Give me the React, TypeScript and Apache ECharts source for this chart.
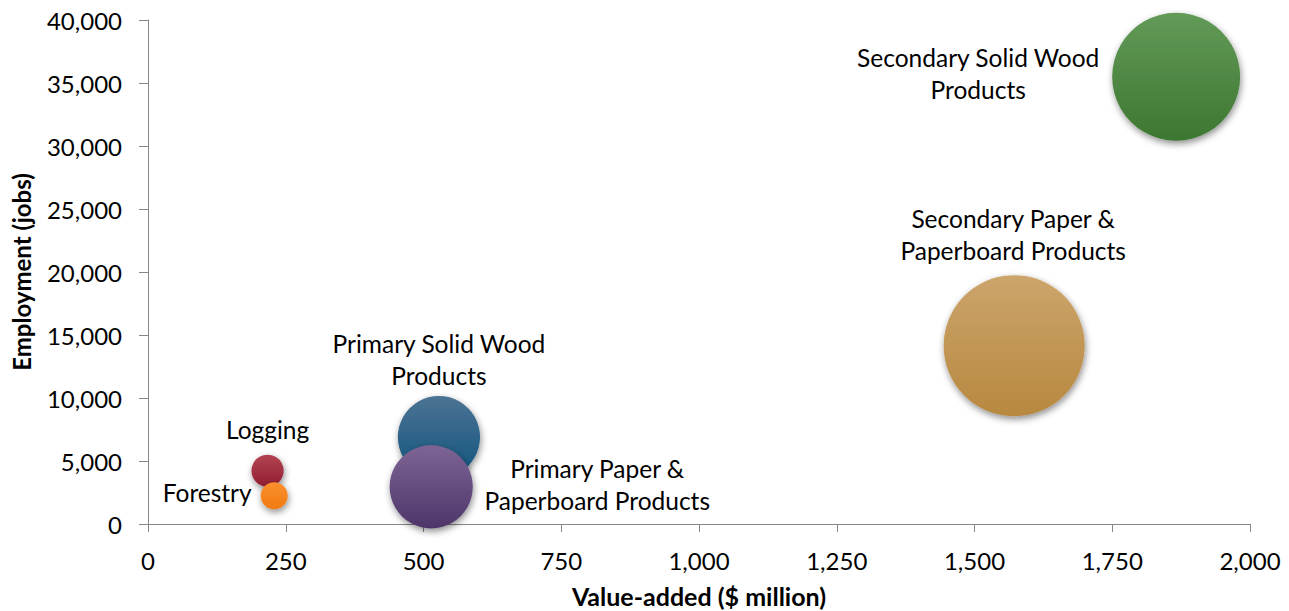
import React, { useEffect, useRef } from "react";
import * as echarts from "echarts";

const sectors = [
  "Secondary Solid Wood\nProducts",
  "Secondary Paper &\nPaperboard Products",
  "Primary Solid Wood\nProducts",
  "Primary Paper &\nPaperboard Products",
  "Logging",
  "Forestry",
];
const valueAdded = [1866, 1572, 528, 514, 217, 229];
const employment = [35500, 14150, 6900, 2950, 4230, 2240];
const bubbleSize = [4120, 5000, 1700, 1740, 260, 185];

const xTicks = { min: 0, max: 2000, interval: 250 };
const yTicks = { min: 0, max: 40000, interval: 5000 };

const colorsTop = ["#639a58", "#cca56c", "#4b7394", "#7d6595", "#b24352", "#fb9030"];
const colorsBottom = ["#3c7731", "#b7883f", "#12557d", "#4e3569", "#921e31", "#f07a10"];
const labelOffsets: number[][] = [
  [-198, -3],
  [-1, -111],
  [0, -78],
  [166, -2],
  [0, -41],
  [-67, -3],
];

const FONT = "Lato, Carlito, 'Liberation Sans', sans-serif";

export default function App() {
  const ref = useRef<HTMLDivElement>(null);
  useEffect(() => {
    if (!ref.current) return;
    const chart = echarts.init(ref.current, undefined, { renderer: "svg" });
    const maxSize = Math.max(...bubbleSize);
    const data = sectors.map((name, i) => ({
      name,
      value: [valueAdded[i], employment[i], bubbleSize[i]],
      symbolSize: Math.sqrt(bubbleSize[i] / maxSize) * 141,
      itemStyle: {
        color: new echarts.graphic.LinearGradient(0, 0, 0, 1, [
          { offset: 0, color: colorsTop[i] },
          { offset: 1, color: colorsBottom[i] },
        ]),
        shadowBlur: 7,
        shadowOffsetX: 1,
        shadowOffsetY: 3,
        shadowColor: "rgba(0,0,0,0.45)",
        opacity: 1,
      },
      label: {
        show: true,
        position: "inside",
        align: "center",
        verticalAlign: "middle",
        offset: labelOffsets[i],
        formatter: "{b}",
        color: "#000",
        fontFamily: FONT,
        fontSize: 24.5,
        lineHeight: 32,
      },
    }));
    chart.setOption({
      animation: false,
      backgroundColor: "#fff",
      textStyle: { fontFamily: FONT },
      grid: {
        left: 148,
        right: 39,
        top: 20,
        bottom: 87,
        containLabel: false,
        outerBoundsMode: "none",
      },
      xAxis: {
        type: "value",
        min: xTicks.min,
        max: xTicks.max,
        interval: xTicks.interval,
        name: "Value-added ($ million)",
        nameLocation: "middle",
        nameGap: 59,
        nameTextStyle: { fontFamily: FONT, fontSize: 25, fontWeight: "bold", color: "#000" },
        axisLine: { show: true, lineStyle: { color: "#868686", width: 1 } },
        axisTick: { show: true, inside: false, length: 8, lineStyle: { color: "#868686" } },
        axisLabel: {
          fontFamily: FONT,
          fontSize: 24,
          color: "#000",
          margin: 24,
          formatter: (v: number) => v.toLocaleString("en-US"),
        },
        splitLine: { show: false },
      },
      yAxis: {
        type: "value",
        min: yTicks.min,
        max: yTicks.max,
        interval: yTicks.interval,
        name: "Employment (jobs)",
        nameLocation: "middle",
        nameGap: 115,
        nameRotate: 90,
        nameTextStyle: { fontFamily: FONT, fontSize: 24, fontWeight: "bold", color: "#000" },
        axisLine: { show: true, lineStyle: { color: "#868686", width: 1 } },
        axisTick: { show: true, inside: false, length: 9, lineStyle: { color: "#868686" } },
        axisLabel: {
          fontFamily: FONT,
          fontSize: 24,
          color: "#000",
          margin: 26,
          formatter: (v: number) => v.toLocaleString("en-US"),
        },
        splitLine: { show: false },
      },
      series: [
        {
          type: "scatter",
          symbol: "circle",
          data,
          emphasis: { disabled: true },
        },
      ],
    });
    return () => chart.dispose();
  }, []);
  return <div ref={ref} style={{ width: 1289, height: 611, position: "absolute", left: 0, top: 0 }} />;
}
